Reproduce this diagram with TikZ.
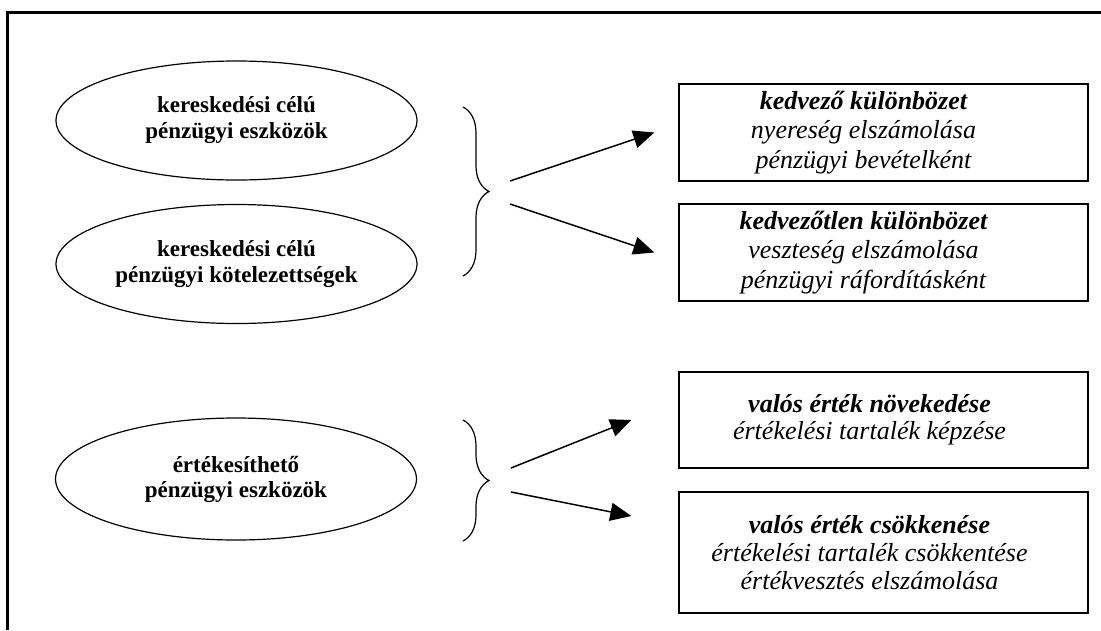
\documentclass[tikz,border=0pt]{standalone}
\usepackage{fontspec}
\setmainfont{Liberation Serif}
\usetikzlibrary{arrows.meta,shapes.geometric,decorations.pathreplacing}

\begin{document}
\begin{tikzpicture}[x=1pt,y=-1pt,
    oval/.style={draw,ellipse,line width=1.2pt,minimum width=361pt,minimum height=119pt,
      inner sep=0pt,align=center,font=\fontsize{23}{26}\selectfont\bfseries},
    result/.style={draw,line width=1.3pt,minimum width=409pt,inner sep=0pt},
    resulttext/.style={align=center,inner sep=0pt,font=\fontsize{26}{29.5}\selectfont\itshape},
    curly/.style={decorate,decoration={brace,amplitude=26pt},line width=1.2pt},
    arr/.style={line width=1.5pt,-{Triangle[length=21pt,width=18pt]}}]
  \useasboundingbox (0,0) rectangle (1101,630);
  \draw[line width=3pt] (7.5,630) -- (7.5,12.5) -- (1101,12.5);
  \draw
    (236.5,120.5) node[oval] (tradeA){kereskedési célú\\pénzügyi eszközök}
    (236.5,264) node[oval] (tradeL){kereskedési célú\\pénzügyi kötelezettségek}
    (236,479) node[oval,minimum height=122pt,font=\fontsize{23}{25}\selectfont\bfseries] (sale){értékesíthető\\pénzügyi eszközök}
    (883.5,132.5) node[result,minimum height=97pt] (gain){}
    (883.5,252.5) node[result,minimum height=97pt] (loss){}
    (883.5,420) node[result,minimum height=96pt] (up){}
    (883.5,552.5) node[result,minimum height=121pt] (down){};
  \node[resulttext] (gaintext) at ([xshift=-20pt]gain.center)
    {\textbf{kedvező különbözet}\\nyereség elszámolása\\pénzügyi bevételként};
  \node[resulttext] (losstext) at ([xshift=-20pt]loss.center)
    {\textbf{kedvezőtlen különbözet}\\veszteség elszámolása\\pénzügyi ráfordításként};
  \node[resulttext,font=\fontsize{26}{27}\selectfont\itshape] (uptext) at ([xshift=-14pt]up.center)
    {\textbf{valós érték növekedése}\\értékelési tartalék képzése};
  \node[resulttext,font=\fontsize{26}{28}\selectfont\itshape] (downtext) at ([xshift=-14pt]down.center)
    {\textbf{valós érték csökkenése}\\értékelési tartalék csökkentése\\értékvesztés elszámolása};
  \draw[curly] (463,107) -- (463,276);
  \draw[curly] (463,420) -- (463,541);
  \coordinate (s1) at (510,181);
  \coordinate (s2) at (510,204);
  \coordinate (s3) at (511,468);
  \coordinate (s4) at (511,492);
  \begin{scope}[arr]
    \draw (s1) to ([xshift=-24pt]gain.west);
    \draw (s2) to ([xshift=-24pt]loss.west);
    \draw (s3) to ([xshift=-47pt]up.west);
    \draw (s4) to ([shift={(-47,-36.5)}]down.west);
  \end{scope}
\end{tikzpicture}
\end{document}
